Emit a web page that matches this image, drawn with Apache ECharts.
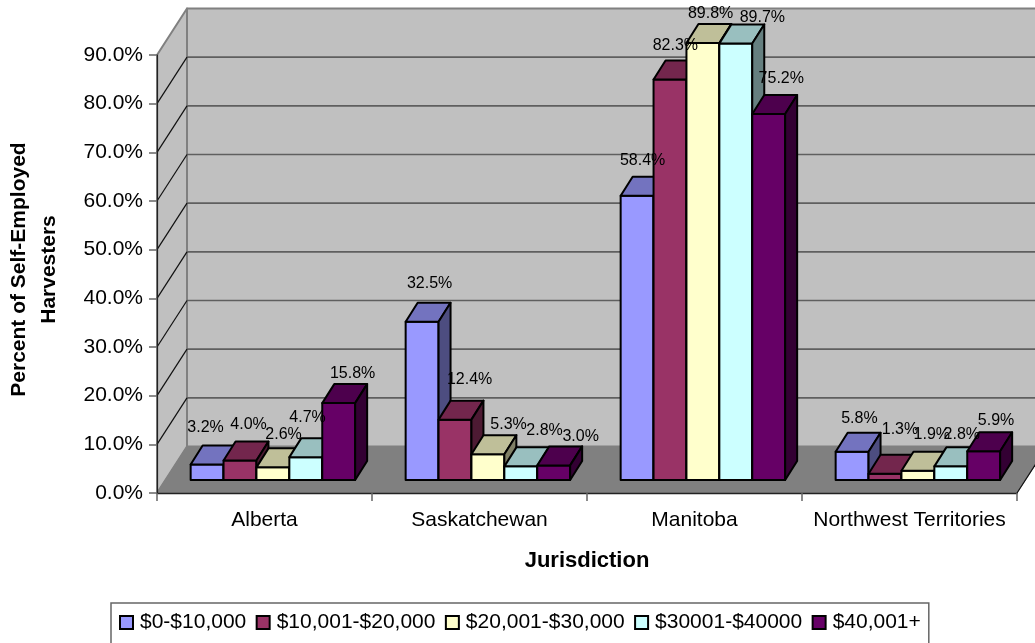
<!DOCTYPE html>
<html>
<head>
<meta charset="utf-8">
<style>html,body{margin:0;padding:0;background:#fff}#c{width:1035px;height:643px}</style>
<script src="https://cdn.jsdelivr.net/npm/echarts@6/dist/echarts.min.js"></script>
</head>
<body>
<div id="c"></div>
<script>
var categories = ['Alberta', 'Saskatchewan', 'Manitoba', 'Northwest Territories'];
var seriesNames = ['$0-$10,000', '$10,001-$20,000', '$20,001-$30,000', '$30001-$40000', '$40,001+'];
var income0to10 = [3.2, 32.5, 58.4, 5.8];
var income10to20 = [4.0, 12.4, 82.3, 1.3];
var income20to30 = [2.6, 5.3, 89.8, 1.9];
var income30to40 = [4.7, 2.8, 89.7, 2.8];
var income40plus = [15.8, 3.0, 75.2, 5.9];
var seriesColors = ['#9999FF', '#993366', '#FFFFCC', '#CCFFFF', '#660066'];

// label placement offsets relative to the bar's top (series by series, per category)
var labelNudges = [
  [[-1.5, -18], [7.5, -19], [5.5, -16], [7.3, -13.8]],
  [[8.6, -16.5], [14.6, -20.6], [5.4, -14.5], [15, -24.7]],
  [[10.7, -14], [20.7, -11], [7.7, -10], [13.9, -16.8]],
  [[1.8, -21], [23.8, -17], [26.6, -6.4], [11, -12.4]],
  [[13.9, -11], [27, -10], [12.6, -16], [12.4, -11.3]]
];

var allValues = [income0to10, income10to20, income20to30, income30to40, income40plus];
var FONT = '"Liberation Sans", Arial, sans-serif';
var WALL_DX = 30, WALL_DY = -46.5;
var BAR_FX = 8.4, BAR_FY = -13, BAR_DX = 12, BAR_DY = -19;
var BAR_FRAC = 32.9 / 215;
var EDGE = '#000';

function shade(hex, f) {
  var n = parseInt(hex.slice(1), 16);
  var r = Math.round(((n >> 16) & 255) * f), g = Math.round(((n >> 8) & 255) * f), b = Math.round((n & 255) * f);
  return 'rgb(' + r + ',' + g + ',' + b + ')';
}
function poly(points, fill, stroke, lw) {
  return { type: 'polygon', shape: { points: points }, style: { fill: fill, stroke: stroke, lineWidth: lw || 0, lineJoin: 'round' } };
}
function seg(a, b, stroke, lw) {
  return { type: 'line', shape: { x1: a[0], y1: a[1], x2: b[0], y2: b[1] }, style: { stroke: stroke, lineWidth: lw } };
}
function renderWalls(params, api) {
  var band = api.size([1, 0])[0];
  var L = api.coord([0, 0])[0] - band / 2;
  var R = api.coord([categories.length - 1, 0])[0] + band / 2;
  var y0 = api.coord([0, 0])[1], yT = api.coord([0, 90])[1];
  var k = [];
  k.push(poly([[L + WALL_DX, yT + WALL_DY], [R + WALL_DX, yT + WALL_DY], [R + WALL_DX, y0 + WALL_DY], [L + WALL_DX, y0 + WALL_DY]], '#C0C0C0', '#808080', 2));
  k.push(poly([[L, y0], [L, yT], [L + WALL_DX, yT + WALL_DY], [L + WALL_DX, y0 + WALL_DY]], '#C0C0C0', '#808080', 2));
  k.push(poly([[L, y0], [L + WALL_DX, y0 + WALL_DY], [R + WALL_DX, y0 + WALL_DY], [R, y0]], '#808080', '#808080', 1));
  for (var v = 10; v < 90; v += 10) {
    var y = api.coord([0, v])[1];
    k.push(seg([L + WALL_DX, y + WALL_DY], [R + WALL_DX, y + WALL_DY], '#5f5f5f', 1.6));
    k.push(seg([L, y], [L + WALL_DX, y + WALL_DY], '#111', 1.2));
  }
  k.push(seg([R, y0], [R + WALL_DX, y0 + WALL_DY], '#111', 1.2));
  return { type: 'group', children: k };
}
function renderBar(params, api) {
  var cat = api.value(0), v = api.value(1);
  var si = params.seriesIndex - 1;
  var band = api.size([1, 0])[0];
  var w = band * BAR_FRAC;
  var p = api.coord([cat, 0]), q = api.coord([cat, v]);
  var x = p[0] + BAR_FX + (si - 2.5) * w;
  var yb = p[1] + BAR_FY, yt = q[1] + BAR_FY;
  var c = seriesColors[si], lw = 2;
  return { type: 'group', children: [
    poly([[x, yb], [x + w, yb], [x + w, yt], [x, yt]], c, EDGE, lw),
    poly([[x, yt], [x + w, yt], [x + w + BAR_DX, yt + BAR_DY], [x + BAR_DX, yt + BAR_DY]], shade(c, 0.75), EDGE, lw),
    poly([[x + w, yb], [x + w, yt], [x + w + BAR_DX, yt + BAR_DY], [x + w + BAR_DX, yb + BAR_DY]], shade(c, 0.5), EDGE, lw)
  ] };
}
function renderLabel(params, api) {
  var cat = api.value(0), v = api.value(1), si = api.value(2);
  var band = api.size([1, 0])[0];
  var w = band * BAR_FRAC;
  var p = api.coord([cat, v]);
  var n = labelNudges[si][cat];
  var cx = p[0] + BAR_FX + (si - 2) * w + n[0];
  var topBack = p[1] + BAR_FY + BAR_DY;
  return { type: 'text', style: { x: cx, y: topBack + n[1], text: v.toFixed(1) + '%', fill: '#000', font: '16px ' + FONT, align: 'center', verticalAlign: 'middle' } };
}

var series = [{ type: 'custom', name: 'walls', coordinateSystem: 'cartesian2d', renderItem: renderWalls, data: [[0, 0]], z: 1, silent: true, clip: false }];
allValues.forEach(function (vals, si) {
  series.push({
    type: 'custom', name: seriesNames[si], coordinateSystem: 'cartesian2d', renderItem: renderBar, clip: false, z: 2 + si,
    itemStyle: { color: seriesColors[si], borderColor: '#000', borderWidth: 2 },
    encode: { x: 0, y: 1 },
    data: vals.map(function (v, i) { return [i, v]; })
  });
});
var labelData = [];
allValues.forEach(function (vals, si) { vals.forEach(function (v, i) { labelData.push([i, v, si]); }); });
series.push({ type: 'custom', name: 'labels', coordinateSystem: 'cartesian2d', renderItem: renderLabel, data: labelData, z: 20, clip: false, silent: true, encode: { x: 0, y: 1 } });

var chart = echarts.init(document.getElementById('c'), null, { renderer: 'canvas' });
chart.setOption({
  animation: false,
  backgroundColor: '#fff',
  textStyle: { fontFamily: FONT },
  grid: { left: 157, right: 18, top: 55, bottom: 150, containLabel: false, outerBoundsMode: 'none' },
  legend: {
    data: seriesNames, left: 111, top: 603, orient: 'horizontal', icon: 'rect',
    itemWidth: 13, itemHeight: 13, itemGap: 9.4, padding: [9, 8, 16, 8],
    borderColor: '#666', borderWidth: 1.5, backgroundColor: '#fff',
    textStyle: { fontFamily: FONT, fontSize: 21, color: '#000', padding: [0, 0, 0, 2] },
    selectedMode: false
  },
  xAxis: {
    type: 'category', data: categories, z: 10,
    name: 'Jurisdiction', nameLocation: 'middle', nameGap: 57,
    nameTextStyle: { fontFamily: FONT, fontSize: 22, fontWeight: 'bold', color: '#000' },
    axisLine: { lineStyle: { color: '#222', width: 1.3 } },
    axisTick: { show: true, length: 8, lineStyle: { color: '#666', width: 1.5 } },
    axisLabel: { interval: 0, margin: 17, fontFamily: FONT, fontSize: 21, color: '#000' },
    splitLine: { show: false }
  },
  yAxis: {
    type: 'value', min: 0, max: 90, interval: 10, z: 10,
    name: 'Percent of Self-Employed\nHarvesters', nameLocation: 'middle', nameRotate: 90, nameGap: 93,
    nameTextStyle: { fontFamily: FONT, fontSize: 21, fontWeight: 'bold', color: '#000', lineHeight: 30, padding: [0, 0, 0, 9] },
    axisLine: { show: true, lineStyle: { color: '#222', width: 1.2 } },
    axisTick: { show: true, length: 8, lineStyle: { color: '#666', width: 1.5 } },
    axisLabel: { margin: 14, fontFamily: FONT, fontSize: 21, color: '#000', formatter: function (v) { return v.toFixed(1) + '%'; } },
    splitLine: { show: false }
  },
  series: series
});
</script>
</body>
</html>
